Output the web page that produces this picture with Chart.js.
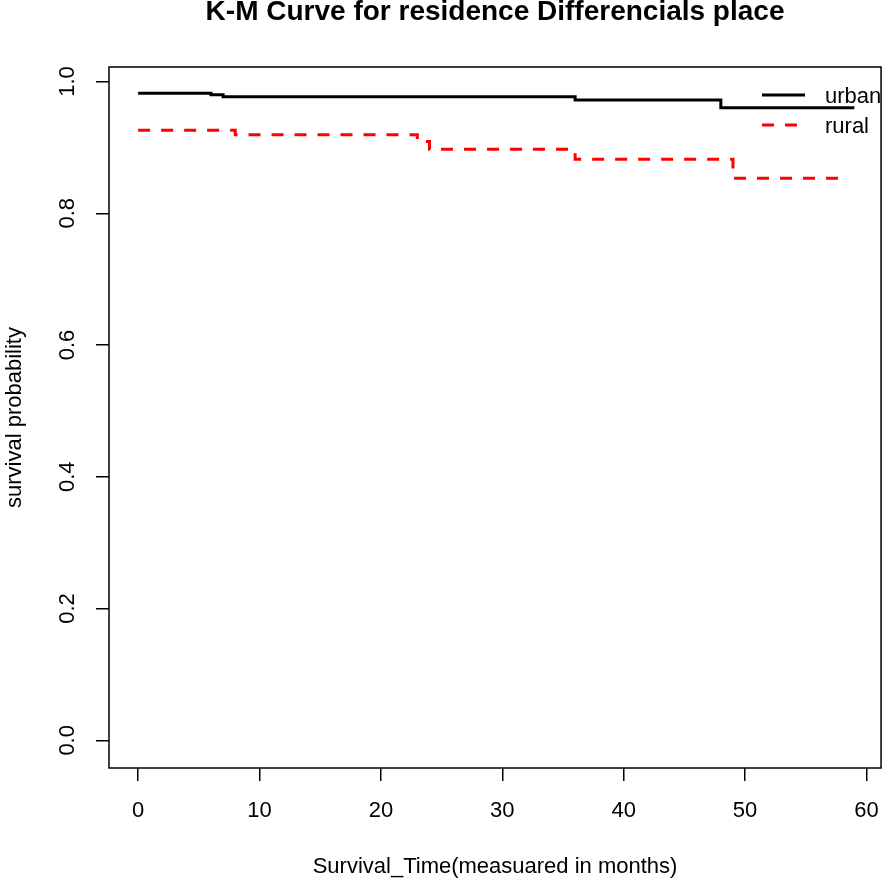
<!DOCTYPE html>
<html>
<head>
<meta charset="utf-8">
<title>K-M Curve</title>
<script src="https://cdn.jsdelivr.net/npm/chart.js@4.4.1/dist/chart.umd.min.js"></script>
<style>
    html, body { margin: 0; padding: 0; background: #fff; }
    #wrap { width: 896px; height: 883px; }
</style>
</head>
<body>
<div id="wrap"><canvas id="kmChart" width="896" height="883"></canvas></div>
<script>
// Kaplan-Meier step values
const urbanTime = [0, 6, 7, 36, 48, 59];
const urbanSurv = [0.982, 0.980, 0.977, 0.972, 0.960, 0.960];
const ruralTime = [0, 8, 23, 24, 36, 49, 58];
const ruralSurv = [0.926, 0.919, 0.909, 0.897, 0.882, 0.853, 0.853];

const seriesNames = ['urban', 'rural'];
const xTicks = [0, 10, 20, 30, 40, 50, 60];
const yTicks = [0.0, 0.2, 0.4, 0.6, 0.8, 1.0];

const FONT = "'Liberation Sans', Arial, sans-serif";

function toPoints(times, values) {
    return times.map(function(t, i) { return { x: t, y: values[i] }; });
}

document.addEventListener('DOMContentLoaded', function() {
    Chart.defaults.font.family = FONT;
    Chart.defaults.color = '#000';

    // R-style frame round the plot region
    const boxPlugin = {
        id: 'plotBox',
        afterDraw(chart) {
            const a = chart.chartArea;
            const ctx = chart.ctx;
            ctx.save();
            ctx.strokeStyle = '#000';
            ctx.lineWidth = 1.5;
            ctx.strokeRect(a.left, a.top, a.right - a.left, a.bottom - a.top);
            ctx.restore();
        }
    };

    // legend without box, top right inside the plot
    const legendPlugin = {
        id: 'innerLegend',
        afterDraw(chart) {
            const ctx = chart.ctx;
            const x0 = 762, x1 = 805, tx = 825;
            const rows = [95, 125];
            ctx.save();
            chart.data.datasets.forEach(function(ds, i) {
                const y = rows[i];
                ctx.strokeStyle = ds.borderColor;
                ctx.lineWidth = ds.borderWidth;
                ctx.setLineDash(ds.borderDash || []);
                ctx.beginPath();
                ctx.moveTo(x0, y);
                ctx.lineTo(x1, y);
                ctx.stroke();
                ctx.setLineDash([]);
                ctx.fillStyle = '#000';
                ctx.font = '22px ' + FONT;
                ctx.textBaseline = 'middle';
                ctx.textAlign = 'left';
                ctx.fillText(ds.label, tx, y + 2);
            });
            ctx.restore();
        }
    };

    const kmCtx = document.getElementById('kmChart');

    const kmChart = new Chart(kmCtx, {
        type: 'line',
        data: {
            datasets: [
                {
                    label: seriesNames[0],
                    data: toPoints(urbanTime, urbanSurv),
                    borderColor: '#000000',
                    borderWidth: 3,
                    stepped: 'before',
                    pointRadius: 0,
                    fill: false
                },
                {
                    label: seriesNames[1],
                    data: toPoints(ruralTime, ruralSurv),
                    borderColor: '#ff0000',
                    borderWidth: 3,
                    borderDash: [12, 11],
                    stepped: 'before',
                    pointRadius: 0,
                    fill: false
                }
            ]
        },
        options: {
            responsive: false,
            animation: false,
            layout: {
                padding: { top: 0, right: 4, left: 0, bottom: 0 }
            },
            plugins: {
                legend: { display: false },
                tooltip: { enabled: false },
                title: {
                    display: true,
                    fullSize: false,
                    text: 'K-M Curve for residence Differencials place',
                    color: '#000',
                    font: { size: 28, weight: 'bold', lineHeight: 1.0 },
                    padding: { top: -2, bottom: 41 }
                }
            },
            scales: {
                x: {
                    type: 'linear',
                    min: -2.4,
                    max: 61.2,
                    afterFit: function(scale) { scale.height = 115; },
                    afterBuildTicks: function(scale) {
                        scale.ticks = xTicks.map(function(v) { return { value: v }; });
                    },
                    grid: {
                        display: true,
                        drawOnChartArea: false,
                        drawTicks: true,
                        tickLength: 13,
                        color: '#000',
                        lineWidth: 1.5
                    },
                    border: { display: false },
                    ticks: {
                        font: { size: 22 },
                        color: '#000',
                        padding: 17,
                        maxRotation: 0,
                        minRotation: 0,
                        callback: function(v) { return String(v); }
                    },
                    title: {
                        display: true,
                        text: 'Survival_Time(measuared in months)',
                        font: { size: 22 },
                        color: '#000',
                        padding: { top: 0, bottom: 3 }
                    }
                },
                y: {
                    type: 'linear',
                    min: -0.042,
                    max: 1.022,
                    afterFit: function(scale) { scale.width = 109; },
                    afterBuildTicks: function(scale) {
                        scale.ticks = yTicks.map(function(v) { return { value: v }; });
                    },
                    grid: {
                        display: true,
                        drawOnChartArea: false,
                        drawTicks: true,
                        tickLength: 13,
                        color: '#000',
                        lineWidth: 1.5
                    },
                    border: { display: false },
                    ticks: {
                        font: { size: 22 },
                        color: '#000',
                        padding: 13,
                        minRotation: 90,
                        maxRotation: 90,
                        crossAlign: 'center',
                        callback: function(v) { return Number(v).toFixed(1); }
                    },
                    title: {
                        display: true,
                        text: 'survival probability',
                        font: { size: 22 },
                        color: '#000',
                        padding: { top: 2, bottom: 0 }
                    }
                }
            }
        },
        plugins: [boxPlugin, legendPlugin]
    });
});
</script>
</body>
</html>
